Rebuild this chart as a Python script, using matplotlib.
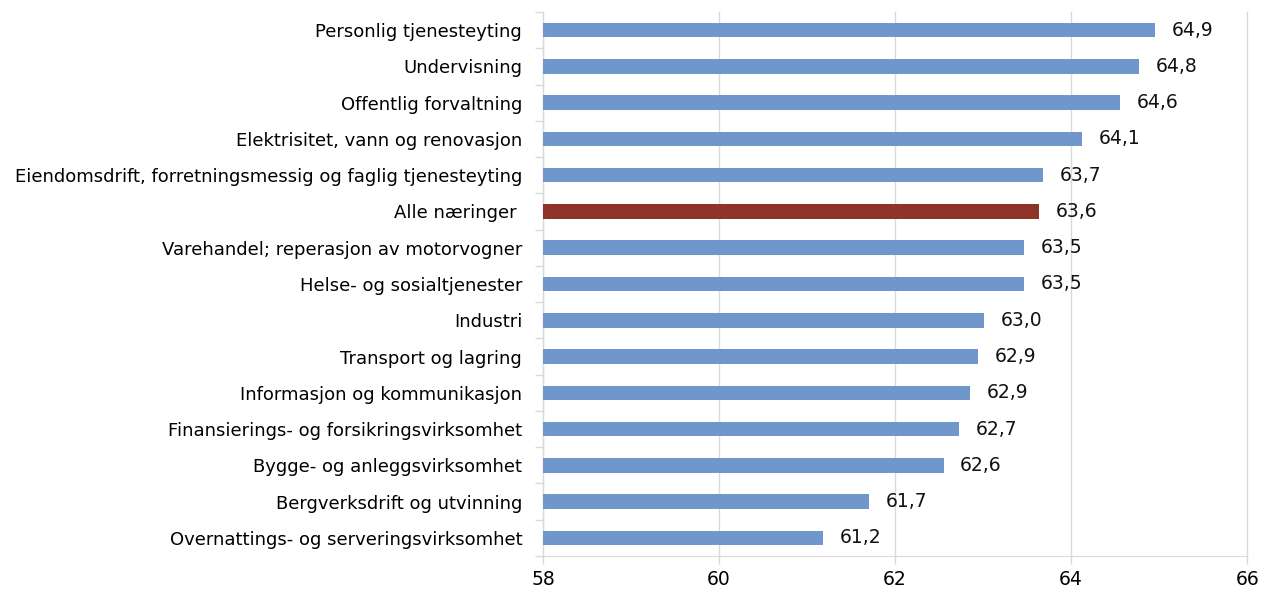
import numpy as np
import matplotlib.pyplot as plt
from matplotlib.ticker import FixedLocator

# ===== DATA (top to bottom) =====
categories = [
    "Personlig tjenesteyting",
    "Undervisning",
    "Offentlig forvaltning",
    "Elektrisitet, vann og renovasjon",
    "Eiendomsdrift, forretningsmessig og faglig tjenesteyting",
    "Alle næringer ",
    "Varehandel; reperasjon av motorvogner",
    "Helse- og sosialtjenester",
    "Industri",
    "Transport og lagring",
    "Informasjon og kommunikasjon",
    "Finansierings- og forsikringsvirksomhet",
    "Bygge- og anleggsvirksomhet",
    "Bergverksdrift og utvinning",
    "Overnattings- og serveringsvirksomhet",
]
values = [64.95, 64.77, 64.56, 64.12, 63.68, 63.63, 63.47, 63.47,
          63.01, 62.94, 62.85, 62.73, 62.55, 61.70, 61.18]
labels = ["64,9", "64,8", "64,6", "64,1", "63,7", "63,6", "63,5", "63,5",
          "63,0", "62,9", "62,9", "62,7", "62,6", "61,7", "61,2"]
highlight = "Alle næringer "
x_ticks = [58, 60, 62, 64, 66]

BLUE = "#6f97cc"
RED = "#8f3228"
GRID = "#d9d9d9"

plt.rcParams['font.family'] = ['DejaVu Sans']

fig = plt.figure(figsize=(12.64, 5.9), dpi=100)
ax = fig.add_axes([0.4296, 0.0576, 0.5571, 0.9221])

y = np.arange(len(categories))
colors = [RED if c == highlight else BLUE for c in categories]
ax.barh(y, np.array(values) - 58, left=58, height=0.4, color=colors, zorder=3)

for yi, v, lab in zip(y, values, labels):
    ax.text(v + 0.19, yi, lab, va='center', ha='left', fontsize=13.5, color='#111111')

ax.set_xlim(58, 66)
ax.set_ylim(len(categories) - 0.5, -0.5)
ax.set_xticks(x_ticks)
ax.set_xticklabels([str(t) for t in x_ticks], fontsize=13.5)
ax.set_yticks(y)
ax.set_yticklabels(categories, fontsize=13)
ax.tick_params(axis='y', length=0, pad=15)
ax.yaxis.set_minor_locator(FixedLocator(np.arange(-0.5, len(categories), 1.0)))
ax.tick_params(axis='y', which='minor', length=6, color=GRID, width=1)
ax.tick_params(axis='x', length=6, color=GRID, width=1, pad=4)

ax.grid(axis='x', color=GRID, lw=1, zorder=0)
for gl in ax.get_xgridlines():
    gl.set_clip_on(False)
for s in ['top', 'right']:
    ax.spines[s].set_visible(False)
for s in ['left', 'bottom']:
    ax.spines[s].set_color(GRID)

fig.savefig('out.png', dpi=100, facecolor='white')
